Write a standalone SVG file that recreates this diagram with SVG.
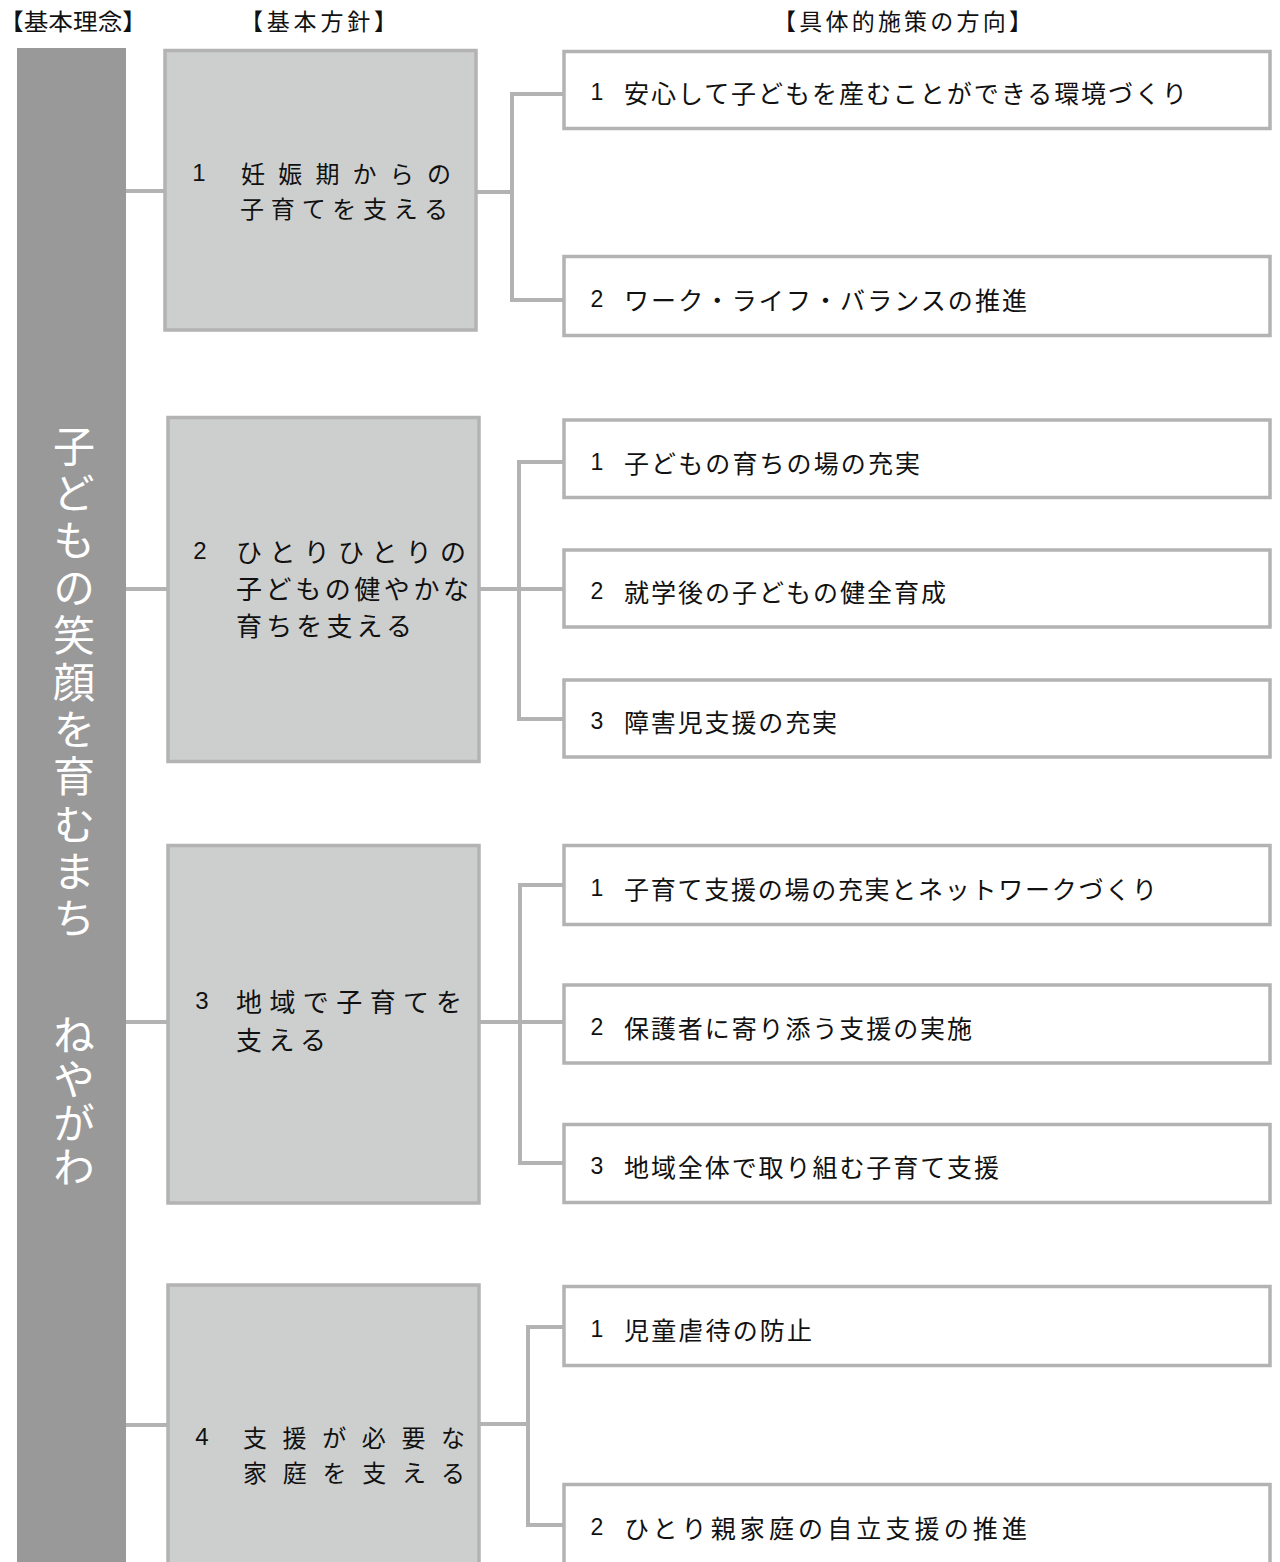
<svg xmlns="http://www.w3.org/2000/svg" width="1280" height="1562" viewBox="0 0 1280 1562">
<style>
.hd{font-family:"Noto Sans CJK JP","Noto Sans",sans-serif;font-size:23px;fill:#111;dominant-baseline:central}
.bar{fill:#999999}
.vt{font-family:"Noto Sans CJK JP",sans-serif;font-size:42px;fill:#ffffff;writing-mode:vertical-rl}
.pb{fill:#cdcfcf;stroke:#b3b3b3;stroke-width:3.5}
.sb{fill:#ffffff;stroke:#b3b3b3;stroke-width:3.5}
.pt{font-family:"Noto Sans CJK JP",sans-serif;font-size:26px;fill:#111;dominant-baseline:central}
.pt2{font-family:"Noto Sans CJK JP",sans-serif;font-size:24px;fill:#111;dominant-baseline:central}
.pn{font-family:"Liberation Sans",Arial,sans-serif;font-size:24px;fill:#111;dominant-baseline:central;text-anchor:middle}
.st{font-family:"Noto Sans CJK JP",sans-serif;font-size:25px;fill:#111;dominant-baseline:central}
.sn{font-family:"Liberation Sans",Arial,sans-serif;font-size:23px;fill:#111;dominant-baseline:central;text-anchor:middle}
.cn{fill:none;stroke:#b3b3b3;stroke-width:4}
</style>

<g id="headers">
<text class="hd" x="-1" y="20" textLength="148" lengthAdjust="spacingAndGlyphs">【基本理念】</text>
<text class="hd" x="240" y="20" textLength="157" lengthAdjust="spacing">【基本方針】</text>
<text class="hd" x="773" y="20" textLength="259" lengthAdjust="spacing">【具体的施策の方向】</text>
</g>

<g id="connectors">
<path class="cn" d="M126,191 H166"/>
<path class="cn" d="M476,192 H512"/>
<path class="cn" d="M563,94 H512 V300 H563"/>
<path class="cn" d="M126,589 H168"/>
<path class="cn" d="M479,589 H563"/>
<path class="cn" d="M563,462 H519 V719 H563"/>
<path class="cn" d="M126,1022 H168"/>
<path class="cn" d="M479,1022 H563"/>
<path class="cn" d="M563,885 H520 V1163 H563"/>
<path class="cn" d="M126,1425 H168"/>
<path class="cn" d="M479,1424 H528"/>
<path class="cn" d="M563,1327 H528 V1525 H563"/>
</g>

<g id="rinen">
<rect class="bar" x="17" y="48" width="109" height="1520"/>
<text class="vt" x="74" y="425" letter-spacing="5.2">子どもの笑顔を育むまち</text>
<text class="vt" x="74" y="1014" letter-spacing="2">ねやがわ</text>
</g>

<g id="hoshin1">
<rect class="pb" x="165" y="50.5" width="311" height="279.5"/>
<text class="pn" x="199" y="172">1</text>
<text class="pt2" x="241" y="172" textLength="210" lengthAdjust="spacing">妊娠期からの</text>
<text class="pt2" x="240" y="207" textLength="208" lengthAdjust="spacing">子育てを支える</text>
</g>
<g id="hoshin2">
<rect class="pb" x="168" y="417.5" width="311" height="344"/>
<text class="pn" x="200" y="550">2</text>
<text class="pt" x="236" y="550" textLength="230" lengthAdjust="spacing">ひとりひとりの</text>
<text class="pt" x="236" y="587" textLength="233" lengthAdjust="spacing">子どもの健やかな</text>
<text class="pt" x="236" y="624" textLength="176" lengthAdjust="spacing">育ちを支える</text>
</g>
<g id="hoshin3">
<rect class="pb" x="168" y="845.5" width="311" height="357.5"/>
<text class="pn" x="202" y="1000">3</text>
<text class="pt" x="236" y="1000" textLength="226" lengthAdjust="spacing">地域で子育てを</text>
<text class="pt" x="236" y="1038" textLength="90" lengthAdjust="spacing">支える</text>
</g>
<g id="hoshin4">
<rect class="pb" x="168" y="1285" width="311" height="320"/>
<text class="pn" x="202" y="1436">4</text>
<text class="pt2" x="243" y="1436" textLength="222" lengthAdjust="spacing">支援が必要な</text>
<text class="pt2" x="243" y="1471" textLength="222" lengthAdjust="spacing">家庭を支える</text>
</g>

<g id="shisaku1-1">
<rect class="sb" x="564" y="51.5" width="706" height="77"/>
<text class="sn" x="597" y="92">1</text>
<text class="st" x="624" y="92" textLength="563" lengthAdjust="spacing">安心して子どもを産むことができる環境づくり</text>
</g>
<g id="shisaku1-2">
<rect class="sb" x="564" y="256.5" width="706" height="79"/>
<text class="sn" x="597" y="299">2</text>
<text class="st" x="624" y="299" textLength="403" lengthAdjust="spacing">ワーク・ライフ・バランスの推進</text>
</g>
<g id="shisaku2-1">
<rect class="sb" x="564" y="420" width="706" height="77.5"/>
<text class="sn" x="597" y="462">1</text>
<text class="st" x="624" y="462" textLength="296" lengthAdjust="spacing">子どもの育ちの場の充実</text>
</g>
<g id="shisaku2-2">
<rect class="sb" x="564" y="550" width="706" height="77"/>
<text class="sn" x="597" y="591">2</text>
<text class="st" x="624" y="591" textLength="322" lengthAdjust="spacing">就学後の子どもの健全育成</text>
</g>
<g id="shisaku2-3">
<rect class="sb" x="564" y="680" width="706" height="77"/>
<text class="sn" x="597" y="721">3</text>
<text class="st" x="624" y="721" textLength="213" lengthAdjust="spacing">障害児支援の充実</text>
</g>
<g id="shisaku3-1">
<rect class="sb" x="564" y="845.5" width="706" height="79"/>
<text class="sn" x="597" y="888">1</text>
<text class="st" x="624" y="888" textLength="533" lengthAdjust="spacing">子育て支援の場の充実とネットワークづくり</text>
</g>
<g id="shisaku3-2">
<rect class="sb" x="564" y="985" width="706" height="78"/>
<text class="sn" x="597" y="1027">2</text>
<text class="st" x="624" y="1027" textLength="348" lengthAdjust="spacing">保護者に寄り添う支援の実施</text>
</g>
<g id="shisaku3-3">
<rect class="sb" x="564" y="1124.5" width="706" height="78"/>
<text class="sn" x="597" y="1166">3</text>
<text class="st" x="624" y="1166" textLength="375" lengthAdjust="spacing">地域全体で取り組む子育て支援</text>
</g>
<g id="shisaku4-1">
<rect class="sb" x="564" y="1286.5" width="706" height="79"/>
<text class="sn" x="597" y="1329">1</text>
<text class="st" x="624" y="1329" textLength="188" lengthAdjust="spacing">児童虐待の防止</text>
</g>
<g id="shisaku4-2">
<rect class="sb" x="564" y="1484.5" width="706" height="120"/>
<text class="sn" x="597" y="1527">2</text>
<text class="st" x="624" y="1527" textLength="403" lengthAdjust="spacing">ひとり親家庭の自立支援の推進</text>
</g>
</svg>
